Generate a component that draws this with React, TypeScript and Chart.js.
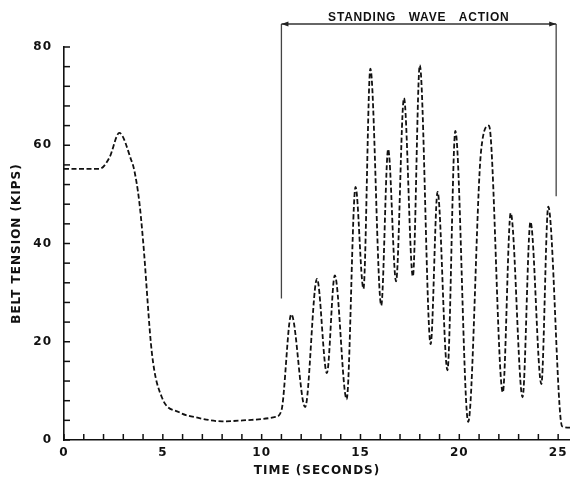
import React, { useEffect, useRef } from 'react';
import { Chart, registerables } from 'chart.js';

Chart.register(...registerables);

// ---- data ----
const timeSeconds = [
  0, 1.8, 2.3, 2.8, 3.4, 3.55, 3.8, 4.0, 4.45, 4.95, 5.8, 6.8, 8.0, 9.5, 10.7, 11.0,
  11.5, 12.2, 12.8, 13.3, 13.7, 14.3, 14.75, 15.15, 15.5, 16.05, 16.4, 16.8, 17.2,
  17.65, 18.0, 18.55, 18.9, 19.4, 19.8, 20.45, 21.1, 21.5, 22.2, 22.6, 23.2, 23.6,
  24.15, 24.5, 25.2, 25.6,
];
const beltTensionKips = [
  55.2, 55.2, 57.5, 62.5, 57, 55, 48.8, 40.6, 17.6, 8.7, 5.7, 4.5, 3.8, 4.1, 4.7, 6.0,
  25.6, 6.7, 32.8, 13.6, 33.5, 8.3, 51.5, 30.8, 75.6, 27.4, 59.2, 32.3, 69.6,
  33.3, 76.3, 19.5, 50.5, 14.2, 62.9, 3.7, 58.8, 64, 9.7, 46.2, 8.7, 44.4,
  11.4, 47.5, 2.8, 2.5,
];
const xLabelValues = [0, 5, 10, 15, 20, 25];
const yLabelValues = [0, 20, 40, 60, 80];
const xTitle = 'TIME (SECONDS)';
const yTitle = 'BELT TENSION (KIPS)';
const annotationText = 'STANDING   WAVE   ACTION';
const waveStartTime = 11.0;
const waveEndTime = 24.9;
const waveArrowLevel = 84.7;
const waveTextLevel = 86.0;
const waveStartLineEnd = 28.8;
const waveEndLineEnd = 49.6;

const INK = '#111111';

const innerTicksPlugin = {
  id: 'innerTicks',
  beforeDraw(chart: any) {
    chart.ctx.letterSpacing = '1px';
  },
  afterDraw(chart: any) {
    const { ctx, chartArea, scales } = chart;
    const xs = scales.x;
    const ys = scales.y;
    ctx.save();
    ctx.strokeStyle = INK;
    ctx.lineWidth = 1.5;
    xs.ticks.forEach((t: any) => {
      if (Math.abs(t.value - Math.round(t.value)) > 1e-6) return;
      const px = xs.getPixelForValue(t.value);
      ctx.beginPath();
      ctx.moveTo(px, chartArea.bottom);
      ctx.lineTo(px, chartArea.bottom - 6);
      ctx.stroke();
    });
    ys.ticks.forEach((t: any) => {
      const py = ys.getPixelForValue(t.value);
      ctx.beginPath();
      ctx.moveTo(chartArea.left, py);
      ctx.lineTo(chartArea.left + 6, py);
      ctx.stroke();
    });

    // annotation: standing wave action
    const x1 = xs.getPixelForValue(waveStartTime);
    const x2 = xs.getPixelForValue(waveEndTime);
    const yA = ys.getPixelForValue(waveArrowLevel);
    ctx.strokeStyle = '#444';
    ctx.lineWidth = 1.3;
    ctx.beginPath();
    ctx.moveTo(x1, yA);
    ctx.lineTo(x1, ys.getPixelForValue(waveStartLineEnd));
    ctx.moveTo(x2, yA);
    ctx.lineTo(x2, ys.getPixelForValue(waveEndLineEnd));
    ctx.stroke();
    ctx.strokeStyle = '#333';
    ctx.lineWidth = 1.5;
    ctx.beginPath();
    ctx.moveTo(x1, yA);
    ctx.lineTo(x2, yA);
    ctx.stroke();
    ctx.fillStyle = '#222';
    ctx.beginPath();
    ctx.moveTo(x1, yA);
    ctx.lineTo(x1 + 7, yA - 2.5);
    ctx.lineTo(x1 + 7, yA + 2.5);
    ctx.closePath();
    ctx.fill();
    ctx.beginPath();
    ctx.moveTo(x2, yA);
    ctx.lineTo(x2 - 7, yA - 2.5);
    ctx.lineTo(x2 - 7, yA + 2.5);
    ctx.closePath();
    ctx.fill();

    ctx.letterSpacing = '0.8px';
    ctx.font = "bold 12px 'Liberation Sans'";
    ctx.fillStyle = INK;
    ctx.textAlign = 'center';
    ctx.textBaseline = 'middle';
    ctx.fillText(annotationText, (x1 + x2) / 2, ys.getPixelForValue(waveTextLevel));
    ctx.restore();
  },
};

export default function App() {
  const ref = useRef<HTMLCanvasElement | null>(null);
  useEffect(() => {
    if (!ref.current) return;
    const points = timeSeconds.map((t, i) => ({ x: t, y: beltTensionKips[i] }));
    const tickFont = { family: "'DejaVu Sans'", size: 12, weight: 'bold' as const };
    const chart = new Chart(ref.current, {
      type: 'line',
      data: {
        datasets: [
          {
            data: points,
            borderColor: INK,
            borderWidth: 1.8,
            borderDash: [5, 2.5],
            pointRadius: 0,
            fill: false,
            cubicInterpolationMode: 'monotone',
          },
        ],
      },
      options: {
        animation: false,
        responsive: false,
        devicePixelRatio: 1,
        layout: { padding: { top: 47, right: 0, bottom: 0, left: 0 } },
        plugins: { legend: { display: false }, tooltip: { enabled: false } },
        scales: {
          x: {
            type: 'linear',
            min: 0,
            max: 25.6,
            afterFit: (s: any) => {
              s.height = 38;
              s.paddingRight = 0;
              s.paddingLeft = 0;
            },
            grid: { display: false, drawTicks: false },
            border: { display: true, color: INK, width: 1.6 },
            ticks: {
              stepSize: 1,
              includeBounds: false,
              autoSkip: false,
              maxRotation: 0,
              padding: 6,
              color: INK,
              font: tickFont,
              callback: (v: any) => (xLabelValues.includes(Number(v)) ? String(v) : ''),
            },
            title: {
              display: true,
              text: xTitle,
              color: INK,
              font: tickFont,
              padding: { top: 0, bottom: 0 },
            },
          },
          y: {
            type: 'linear',
            min: 0,
            max: 80,
            afterFit: (s: any) => {
              s.width = 64;
            },
            grid: { display: false, drawTicks: false },
            border: { display: true, color: INK, width: 1.6 },
            ticks: {
              stepSize: 4,
              autoSkip: false,
              padding: 12,
              color: INK,
              font: tickFont,
              callback: (v: any) => (yLabelValues.includes(Number(v)) ? String(v) : ''),
            },
            title: {
              display: true,
              text: yTitle,
              color: INK,
              font: tickFont,
              padding: { top: 10, bottom: 0 },
            },
          },
        },
      },
      plugins: [innerTicksPlugin],
    });
    return () => chart.destroy();
  }, []);
  return (
    <canvas
      ref={ref}
      width={570}
      height={478}
      style={{ position: 'absolute', left: 0, top: 0, width: 570, height: 478, background: '#fff' }}
    />
  );
}
